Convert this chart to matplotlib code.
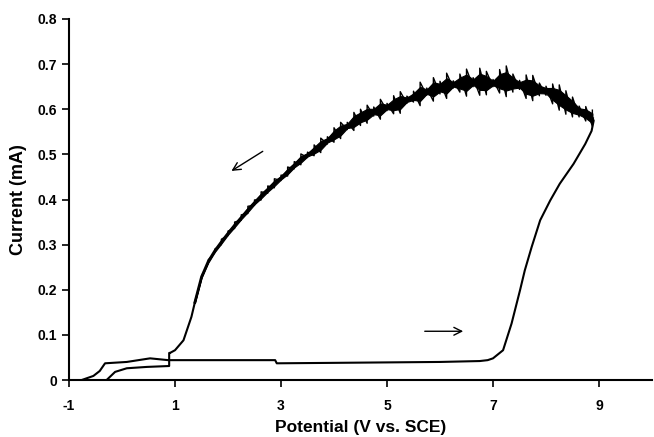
import numpy as np
import matplotlib
matplotlib.use('Agg')
import matplotlib.pyplot as plt

# forward sweep (smooth part, low to high potential)
fwd_v = [-0.76, -0.54, -0.42, -0.32, 0.09, 0.53, 0.87, 1.5, 2.89, 2.92, 4.0, 5.0, 6.0,
         6.75, 6.9, 7.0, 7.19, 7.35, 7.51, 7.6, 7.73, 7.89, 8.08, 8.26, 8.52, 8.74, 8.86, 8.9]
fwd_i = [0.0, 0.009, 0.02, 0.037, 0.04, 0.048, 0.044, 0.044, 0.044, 0.037, 0.038, 0.039, 0.040,
         0.042, 0.044, 0.048, 0.066, 0.125, 0.199, 0.243, 0.295, 0.354, 0.398, 0.435, 0.479, 0.523, 0.552, 0.575]

# reverse sweep, noisy part: centre line and half width of the noise band
rev_v = [8.875, 8.75, 8.625, 8.5, 8.375, 8.25, 8.125, 8.0, 7.875, 7.75, 7.625, 7.5, 7.375, 7.25,
         7.125, 7.0, 6.875, 6.75, 6.625, 6.5, 6.375, 6.25, 6.125, 6.0, 5.875, 5.75, 5.625, 5.5,
         5.375, 5.25, 5.125, 5.0, 4.875, 4.75, 4.625, 4.5, 4.375, 4.25, 4.125, 4.0, 3.875, 3.75,
         3.625, 3.5, 3.375, 3.25, 3.125, 3.0, 2.875, 2.75, 2.625, 2.5, 2.375, 2.25, 2.125, 2.0,
         1.875, 1.75, 1.625, 1.5, 1.375]
rev_i = [0.580, 0.590, 0.595, 0.605, 0.615, 0.626, 0.634, 0.641, 0.644, 0.647, 0.650, 0.654, 0.658, 0.662,
         0.662, 0.658, 0.658, 0.661, 0.660, 0.659, 0.658, 0.655, 0.652, 0.648, 0.644, 0.639, 0.634, 0.628,
         0.621, 0.615, 0.610, 0.605, 0.600, 0.595, 0.589, 0.582, 0.573, 0.563, 0.553, 0.543, 0.531, 0.520,
         0.509, 0.499, 0.489, 0.476, 0.462, 0.448, 0.436, 0.422, 0.408, 0.393, 0.377, 0.360, 0.343, 0.325,
         0.306, 0.286, 0.262, 0.228, 0.172]
rev_noise = [0.018, 0.016, 0.012, 0.022, 0.026, 0.028, 0.022, 0.010, 0.014, 0.028, 0.026, 0.010, 0.020, 0.034,
             0.026, 0.008, 0.026, 0.030, 0.010, 0.030, 0.020, 0.008, 0.028, 0.014, 0.026, 0.008, 0.026, 0.012,
             0.008, 0.024, 0.020, 0.008, 0.022, 0.010, 0.020, 0.018, 0.020, 0.008, 0.018, 0.016, 0.008, 0.016,
             0.012, 0.006, 0.012, 0.008, 0.010, 0.006, 0.010, 0.008, 0.009, 0.006, 0.008, 0.006, 0.007, 0.005,
             0.006, 0.004, 0.004, 0.003, 0.002]

# reverse sweep, smooth tail back to zero
tail_v = [1.375, 1.31, 1.16, 1.0, 0.906, 0.89, 0.89, 0.47, 0.09, -0.13, -0.29]
tail_i = [0.172, 0.140, 0.088, 0.066, 0.060, 0.060, 0.031, 0.029, 0.026, 0.018, 0.0]

x_ticks = [-1, 1, 3, 5, 7, 9]
y_ticks = [0, 0.1, 0.2, 0.3, 0.4, 0.5, 0.6, 0.7, 0.8]
y_labels = ['0', '0.1', '0.2', '0.3', '0.4', '0.5', '0.6', '0.7', '0.8']

plt.rcParams['font.family'] = ['Liberation Sans', 'DejaVu Sans']
plt.rcParams['axes.unicode_minus'] = False

fig = plt.figure(figsize=(6.54, 4.37), dpi=100)
ax = fig.add_axes([69 / 654, 1 - 380 / 437, 583 / 654, 361 / 437])

rev_v = np.array(rev_v)
rev_i = np.array(rev_i)
rev_noise = np.array(rev_noise)

ax.plot(fwd_v + [rev_v[0]], fwd_i + [rev_i[0]], color='black', lw=1.5, solid_joinstyle='round')
ax.plot(rev_v, rev_i, color='black', lw=2.0)
# dense core of the noise band, plus the spikes drawn as a zigzag between the envelopes
ax.fill_between(rev_v, rev_i - 0.6 * rev_noise, rev_i + 0.6 * rev_noise, color='black', lw=0.8)
zig_v = np.repeat(rev_v, 2)
zig_i = np.column_stack([rev_i + rev_noise, rev_i - rev_noise]).ravel()
ax.plot(zig_v, zig_i, color='black', lw=1.0)
ax.plot(tail_v, tail_i, color='black', lw=1.5)

# sweep direction arrows
ax.annotate('', xy=(2.02, 0.460), xytext=(2.70, 0.510),
            arrowprops=dict(arrowstyle='->', color='black', lw=1.0, mutation_scale=14))
ax.annotate('', xy=(6.49, 0.108), xytext=(5.66, 0.108),
            arrowprops=dict(arrowstyle='->', color='black', lw=1.0, mutation_scale=14))

ax.set_xlim(-1, 10)
ax.set_ylim(0, 0.8)
ax.set_xticks(x_ticks)
ax.set_yticks(y_ticks)
ax.set_yticklabels(y_labels)
ax.tick_params(direction='out', length=5, width=1.2, labelsize=10)
for lab in ax.get_xticklabels() + ax.get_yticklabels():
    lab.set_fontweight('bold')
ax.tick_params(axis='x', pad=9)
ax.spines['top'].set_visible(False)
ax.spines['right'].set_visible(False)
ax.spines['left'].set_linewidth(1.5)
ax.spines['bottom'].set_linewidth(1.5)

ax.set_ylabel('Current (mA)', fontsize=13, fontweight='bold')
ax.yaxis.set_label_coords(-0.072, 0.5)
ax.set_xlabel('Potential (V vs. SCE)', fontsize=12.5, fontweight='bold')
ax.xaxis.set_label_coords(0.5, -0.112)

fig.savefig('out.png', dpi=100)
